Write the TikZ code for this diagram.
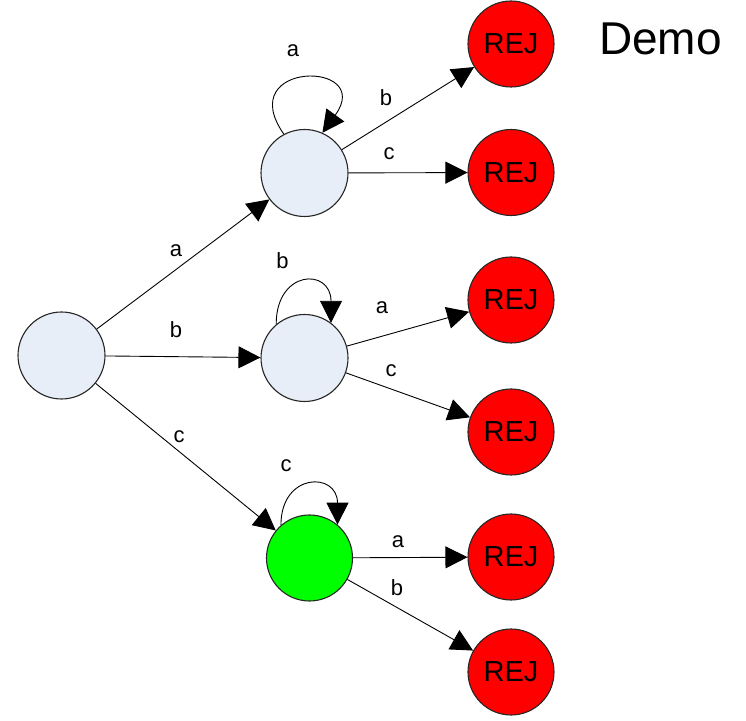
\documentclass[tikz,border=0pt]{standalone}
\usepackage{fontspec}
\setmainfont{Liberation Sans}
\usetikzlibrary{arrows.meta}
\definecolor{statefill}{RGB}{232,238,247}
\definecolor{rejred}{RGB}{255,0,0}
\definecolor{accgreen}{RGB}{0,255,0}
\begin{document}
\begin{tikzpicture}[x=1pt,y=1pt,
  state/.style={circle, draw=black!85, line width=1.1pt, fill=statefill,
                minimum size=87pt, inner sep=0pt},
  rej/.style={state, fill=rejred, minimum size=86pt,
              font=\fontsize{29}{30}\selectfont},
  acc/.style={state, fill=accgreen, minimum size=86pt},
  arr/.style={-{Triangle[length=22pt,width=22pt]}, line width=0.9pt},
  lbl/.style={font=\fontsize{22}{24}\selectfont, inner sep=0pt}
]
\useasboundingbox (0,0) rectangle (746,720);

% states
\node[state] (s) at (61.5,364.5) {};
\node[state] (t) at (304.5,547) {};
\node[state] (m) at (304.5,362) {};
\node[acc]   (g) at (309.5,162) {};

% reject states
\node[rej] (r1) at (511,676) {REJ};
\node[rej] (r2) at (511,547.5) {REJ};
\node[rej] (r3) at (511,420) {REJ};
\node[rej] (r4) at (511,288) {REJ};
\node[rej] (r5) at (511,163) {REJ};
\node[rej] (r6) at (511,48) {REJ};

% title
\node[anchor=base west, inner sep=0pt, font=\fontsize{46}{48}\selectfont]
  (title) at (599,665) {Demo};

% transitions from the start state
\draw[arr] (s) -- (t);
\draw[arr] (s) -- (m);
\draw[arr] (s) -- (g);
\node[lbl] (la1) at (176,469) {a};
\node[lbl] (lb1) at (176,390) {b};
\node[lbl] (lc1) at (179,283) {c};

% transitions to the reject states
\draw[arr] (t) -- (r1);
\draw[arr] (t) -- (r2);
\draw[arr] (m) -- (r3);
\draw[arr] (m) -- (r4);
\draw[arr] (g) -- (r5);
\draw[arr] (g) -- (r6);
\node[lbl] (lb2) at (386,622) {b};
\node[lbl] (lc2) at (389,566) {c};
\node[lbl] (la3) at (382,412) {a};
\node[lbl] (lc3) at (391,349) {c};
\node[lbl] (la5) at (398,178) {a};
\node[lbl] (lb5) at (397,132) {b};

% self loops
\draw[arr] (t.118) .. controls +(125:90) and +(54:90) .. (t.66);
\draw[arr] (m.130) .. controls +(90:55) and +(90:55) .. (m.53);
\draw[arr] (g.131) .. controls +(90:53) and +(90:53) .. (g.50);
\node[lbl] (lta) at (293,669) {a};
\node[lbl] (lmb) at (282.5,459) {b};
\node[lbl] (lgc) at (286,254.5) {c};
\end{tikzpicture}
\end{document}
